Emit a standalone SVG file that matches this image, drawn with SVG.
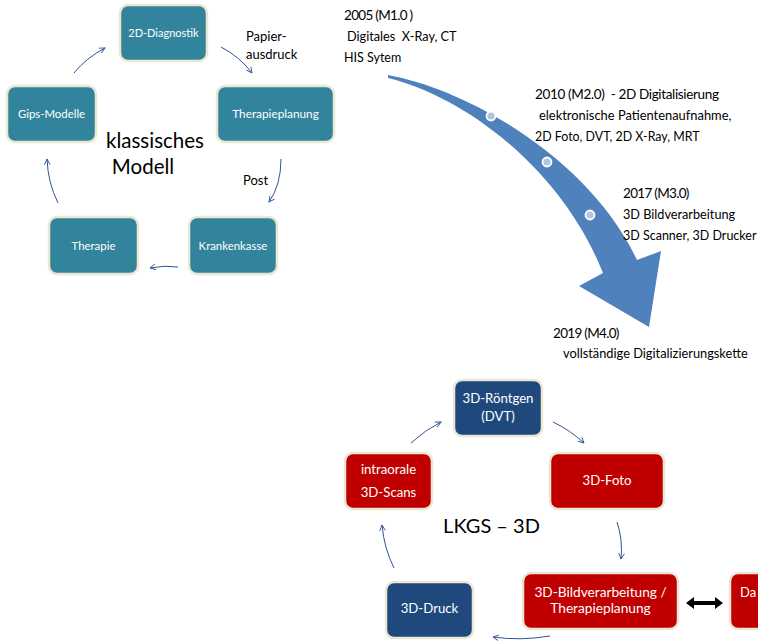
<svg xmlns="http://www.w3.org/2000/svg" width="758" height="643" viewBox="0 0 758 643">
<defs>
<style>
.box{stroke:#ece7d3;stroke-width:2.5}
.teal{fill:#31849b}
.navy{fill:#1f497d}
.red{fill:#c00000}
.bt{font-family:Lato,"Open Sans",sans-serif;fill:#ffffff;text-anchor:middle}
.t{font-family:Lato,"Open Sans",sans-serif;fill:#000000}
.yr{font-size:13.5px;letter-spacing:-0.7px}
.conn{fill:none;stroke:#2f5496;stroke-width:1;marker-end:url(#ah)}
</style>
<marker id="ah" viewBox="0 0 10 10" refX="9" refY="5" markerWidth="7" markerHeight="7" orient="auto">
<path d="M1,1 L9,5 L1,9" fill="none" stroke="#2f5496" stroke-width="1.3"/>
</marker>
</defs>
<rect width="758" height="643" fill="#ffffff"/>

<!-- Classic model -->
<g id="n-2d-diagnostik"><rect class="box teal" x="120" y="5" width="87" height="56" rx="8"/><text class="bt" x="163.5" y="37" font-size="11">2D-Diagnostik</text></g>
<g id="n-therapieplanung"><rect class="box teal" x="217" y="86" width="117" height="56" rx="8"/><text class="bt" x="275.5" y="118" font-size="11.8">Therapieplanung</text></g>
<g id="n-gips"><rect class="box teal" x="7" y="86" width="89" height="56" rx="8"/><text class="bt" x="51.5" y="118" font-size="11.4">Gips-Modelle</text></g>
<g id="n-therapie"><rect class="box teal" x="49" y="217" width="89" height="57" rx="8"/><text class="bt" x="93.5" y="250" font-size="11.4">Therapie</text></g>
<g id="n-krankenkasse"><rect class="box teal" x="189" y="217" width="88" height="57" rx="8"/><text class="bt" x="233" y="250" font-size="11.4">Krankenkasse</text></g>
<g id="title-classic"><text class="t" x="155" y="148" font-size="20.5" text-anchor="middle">klassisches</text><text class="t" x="143" y="174" font-size="20.5" text-anchor="middle">Modell</text></g>
<g id="labels-classic"><text class="t" x="246" y="41" font-size="13">Papier-</text><text class="t" x="246" y="59" font-size="13">ausdruck</text><text class="t" x="243" y="185" font-size="13">Post</text></g>

<!-- Timeline -->
<g id="timeline-arrow">
<path d="M388,75 C470,90 590,160 637,260 L661,251 L649,327 L579,286 L603,273 C560,165 460,95 388,78 Z" fill="#4f81bd"/>
<circle cx="491" cy="116" r="4.5" fill="#b4c3df" stroke="#ffffff" stroke-width="1.8"/>
<circle cx="547" cy="162" r="4.5" fill="#b4c3df" stroke="#ffffff" stroke-width="1.8"/>
<circle cx="590" cy="215" r="4.5" fill="#b4c3df" stroke="#ffffff" stroke-width="1.8"/>
</g>
<g id="timeline-text">
<text class="t yr" x="344" y="20" xml:space="preserve">2005 (M1.0 )</text>
<text class="t" x="347" y="41" font-size="12.7" xml:space="preserve">Digitales  X-Ray, CT</text>
<text class="t" x="344" y="62" font-size="12.5">HIS Sytem</text>
<text class="t" x="535" y="99" font-size="13.5" letter-spacing="-0.35" xml:space="preserve">2010 (M2.0)  - 2D Digitalisierung</text>
<text class="t" x="539" y="120" font-size="12.9">elektronische Patientenaufnahme,</text>
<text class="t" x="535" y="141" font-size="12.4">2D Foto, DVT, 2D X-Ray, MRT</text>
<text class="t yr" x="623" y="198">2017 (M3.0)</text>
<text class="t" x="623" y="219" font-size="12.7">3D Bildverarbeitung</text>
<text class="t" x="623" y="240" font-size="12.5">3D Scanner, 3D Drucker</text>
<text class="t yr" x="553" y="338">2019 (M4.0)</text>
<text class="t" x="563" y="358" font-size="12.8">vollständige Digitalizierungskette</text>
</g>

<!-- LKGS 3D -->
<g id="n-roentgen"><rect class="box navy" x="454" y="380" width="88" height="56" rx="8"/><text class="bt" x="498" y="403" font-size="13.2">3D-Röntgen</text><text class="bt" x="498" y="421" font-size="13.2">(DVT)</text></g>
<g id="n-intraorale"><rect class="box red" x="345" y="453" width="87" height="56" rx="8"/><text class="bt" x="388.5" y="474" font-size="13.2">intraorale</text><text class="bt" x="388.5" y="497" font-size="13.2">3D-Scans</text></g>
<g id="n-foto"><rect class="box red" x="550" y="453" width="114" height="56" rx="8"/><text class="bt" x="607" y="485" font-size="13.2">3D-Foto</text></g>
<g id="n-bild"><rect class="box red" x="523" y="573" width="155" height="56" rx="8"/><text class="bt" x="600.5" y="597" font-size="13.7">3D-Bildverarbeitung /</text><text class="bt" x="600.5" y="613" font-size="13.7">Therapieplanung</text></g>
<g id="n-druck"><rect class="box navy" x="386" y="582" width="87" height="56" rx="8"/><text class="bt" x="429.5" y="613" font-size="13.2">3D-Druck</text></g>
<g id="n-da"><rect class="box red" x="730" y="573" width="60" height="56" rx="8"/><text x="740" y="597" font-size="13" font-family="Lato, 'Open Sans', sans-serif" fill="#ffffff">Da</text></g>
<g id="title-lkgs"><text class="t" x="491.5" y="533" font-size="20" text-anchor="middle">LKGS – 3D</text></g>

<g id="connectors">
<path class="conn" d="M74,73 Q86,58 105,48"/>
<path class="conn" d="M221,47 Q240,57 252,73"/>
<path class="conn" d="M281,159 Q281,185 269,202"/>
<path class="conn" d="M178,267 Q164,265 150,268"/>
<path class="conn" d="M58,203 Q48,183 47,159"/>
<path class="conn" d="M411,443 Q425,430 441,422"/>
<path class="conn" d="M553,422 Q570,430 584,443"/>
<path class="conn" d="M617,522 Q623,540 621,559"/>
<path class="conn" d="M550,636 Q520,641 493,637"/>
<path class="conn" d="M394,568 Q384,548 382,525"/>
<path d="M686,603 L694,597 L694,601 L715,601 L715,597 L723,603 L715,609 L715,605 L694,605 L694,609 Z" fill="#000000"/>
</g>
</svg>
